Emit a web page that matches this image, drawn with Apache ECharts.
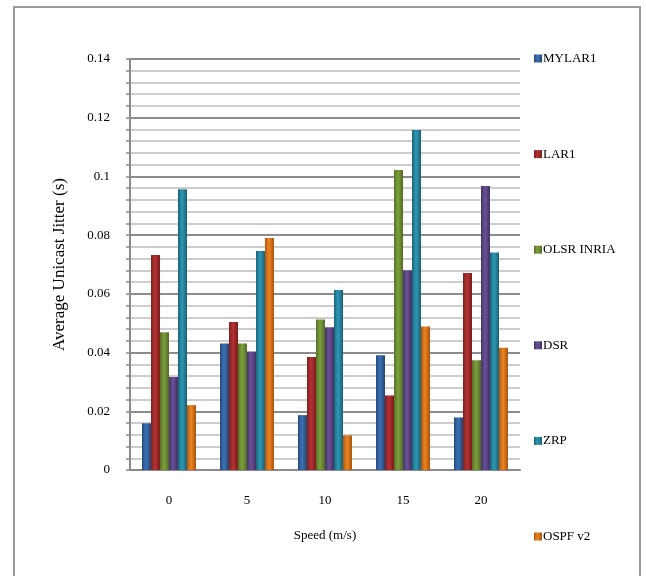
<!DOCTYPE html>
<html>
<head>
<meta charset="utf-8">
<script src="https://cdn.jsdelivr.net/npm/echarts@6/dist/echarts.min.js"></script>
<style>
html,body{margin:0;padding:0;background:#fff;}
#chart{width:646px;height:576px;}
</style>
</head>
<body>
<div id="chart"></div>
<script>
var categories = ['0', '5', '10', '15', '20'];
var seriesNames = ['MYLAR1', 'LAR1', 'OLSR INRIA', 'DSR', 'ZRP', 'OSPF v2'];
var mylar1 = [0.0159, 0.0431, 0.0187, 0.0391, 0.0179];
var lar1 = [0.0732, 0.0504, 0.0385, 0.0254, 0.0671];
var olsrInria = [0.0469, 0.0431, 0.0513, 0.1022, 0.0374];
var dsr = [0.0317, 0.0404, 0.0486, 0.0680, 0.0967];
var zrp = [0.0956, 0.0746, 0.0613, 0.1158, 0.0741];
var ospfV2 = [0.0221, 0.0790, 0.0118, 0.0489, 0.0416];
var seriesValues = [mylar1, lar1, olsrInria, dsr, zrp, ospfV2];

var palette = [
  ['#244a7c', '#3d72b6', '#22456f'],
  ['#7e1f1f', '#b53232', '#781c1c'],
  ['#566f27', '#7fa03d', '#526a24'],
  ['#463567', '#6b519a', '#433263'],
  ['#1b6479', '#2f98b6', '#1a5f73'],
  ['#b2570c', '#ec8424', '#a9520b']
];
function grad(c) {
  return new echarts.graphic.LinearGradient(0, 0, 1, 0, [
    {offset: 0, color: c[0]},
    {offset: 0.45, color: c[1]},
    {offset: 1, color: c[2]}
  ]);
}

var font = '"Liberation Serif", "Times New Roman", serif';
var chart = echarts.init(document.getElementById('chart'), null, {renderer: 'canvas'});
var series = seriesNames.map(function (n, i) {
  return {
    name: n,
    type: 'bar',
    data: seriesValues[i],
    barWidth: 9,
    barGap: '0%',
    itemStyle: {color: grad(palette[i])}
  };
});

chart.setOption({
  animation: false,
  backgroundColor: '#fff',
  textStyle: {fontFamily: font},
  graphic: [{
    type: 'rect',
    shape: {x: 14, y: 7, width: 626, height: 590},
    style: {fill: 'none', stroke: '#9a9a9a', lineWidth: 2},
    silent: true
  }],
  grid: {left: 130, right: 126, top: 59, bottom: 106, containLabel: false},
  legend: {
    orient: 'vertical',
    left: 529,
    top: 47,
    itemWidth: 8,
    itemHeight: 8,
    itemGap: 82.6,
    icon: 'rect',
    data: seriesNames,
    textStyle: {fontFamily: font, fontSize: 13, color: '#000', padding: [0, 0, 0, -4]}
  },
  xAxis: {
    type: 'category',
    data: categories,
    name: 'Speed (m/s)',
    nameLocation: 'middle',
    nameGap: 59,
    nameTextStyle: {fontFamily: font, fontSize: 13, color: '#000'},
    axisLine: {show: true, lineStyle: {color: '#8a8a8a', width: 2}},
    axisTick: {show: false},
    axisLabel: {margin: 24, fontFamily: font, fontSize: 13, color: '#000'},
    splitLine: {show: false}
  },
  yAxis: {
    type: 'value',
    min: 0,
    max: 0.14,
    interval: 0.02,
    name: 'Average Unicast Jitter (s)',
    nameLocation: 'middle',
    nameGap: 62,
    nameTextStyle: {fontFamily: font, fontSize: 17, color: '#000'},
    axisLine: {show: true, lineStyle: {color: '#8a8a8a', width: 2}},
    axisTick: {show: true, inside: false, length: 4, lineStyle: {color: '#8a8a8a', width: 1.5}},
    minorTick: {show: true, splitNumber: 5, length: 4, lineStyle: {color: '#8a8a8a', width: 1.5}},
    axisLabel: {margin: 20, fontFamily: font, fontSize: 13, color: '#000'},
    splitLine: {show: true, lineStyle: {color: '#8c8c8c', width: 2}},
    minorSplitLine: {show: true, lineStyle: {color: '#bdbdbd', width: 1.5}}
  },
  series: series
});
</script>
</body>
</html>
